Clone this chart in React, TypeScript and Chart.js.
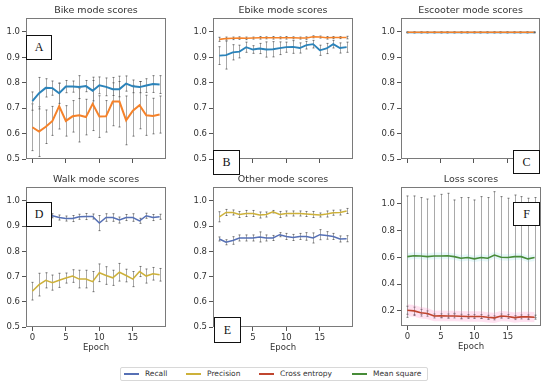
import React, { useEffect, useRef } from "react";
import { Chart, registerables } from "chart.js";

Chart.register(...registerables);
Chart.defaults.font.family = "'DejaVu Sans', sans-serif";

// ---------- data ----------
const epochs = [0, 1, 2, 3, 4, 5, 6, 7, 8, 9, 10, 11, 12, 13, 14, 15, 16, 17, 18, 19];
const xTicks = [0, 5, 10, 15];
const scoreTicks = [0.5, 0.6, 0.7, 0.8, 0.9, 1.0];
const lossTicks = [0.2, 0.4, 0.6, 0.8, 1.0];

const bikeRecall = [0.728, 0.759, 0.78, 0.779, 0.759, 0.785, 0.785, 0.783, 0.787, 0.769, 0.79, 0.784, 0.775, 0.775, 0.797, 0.786, 0.783, 0.789, 0.795, 0.793];
const bikeRecallErr = [0.036, 0.062, 0.036, 0.028, 0.04, 0.024, 0.022, 0.045, 0.022, 0.04, 0.033, 0.035, 0.025, 0.03, 0.03, 0.025, 0.022, 0.027, 0.033, 0.035];
const bikePrecision = [0.625, 0.608, 0.627, 0.65, 0.708, 0.65, 0.668, 0.672, 0.665, 0.717, 0.667, 0.668, 0.726, 0.726, 0.652, 0.69, 0.712, 0.672, 0.669, 0.675];
const bikePrecisionErr = [0.092, 0.098, 0.066, 0.057, 0.09, 0.06, 0.062, 0.105, 0.07, 0.105, 0.082, 0.062, 0.095, 0.1, 0.096, 0.1, 0.093, 0.079, 0.07, 0.073];

const ebikeRecall = [0.907, 0.909, 0.92, 0.923, 0.94, 0.931, 0.935, 0.931, 0.932, 0.936, 0.94, 0.941, 0.937, 0.948, 0.952, 0.928, 0.935, 0.952, 0.937, 0.94];
const ebikeRecallErr = [0.035, 0.055, 0.03, 0.025, 0.02, 0.015, 0.02, 0.03, 0.03, 0.025, 0.02, 0.025, 0.02, 0.015, 0.015, 0.02, 0.02, 0.015, 0.02, 0.02];
const ebikePrecision = [0.971, 0.974, 0.975, 0.976, 0.975, 0.976, 0.977, 0.977, 0.977, 0.977, 0.977, 0.977, 0.976, 0.976, 0.981, 0.98, 0.977, 0.978, 0.978, 0.978];
const ebikePrecisionErr = [0.008, 0.006, 0.005, 0.005, 0.005, 0.004, 0.005, 0.004, 0.005, 0.004, 0.005, 0.004, 0.004, 0.005, 0.004, 0.004, 0.005, 0.004, 0.004, 0.005];

const escooterRecall = [0.998, 0.998, 0.998, 0.998, 0.998, 0.998, 0.998, 0.998, 0.998, 0.998, 0.998, 0.998, 0.998, 0.998, 0.998, 0.998, 0.998, 0.998, 0.998, 0.998];
const escooterRecallErr = [0.002, 0.002, 0.002, 0.002, 0.002, 0.002, 0.002, 0.002, 0.002, 0.002, 0.002, 0.002, 0.002, 0.002, 0.002, 0.002, 0.002, 0.002, 0.002, 0.002];
const escooterPrecision = [0.999, 0.999, 0.999, 0.999, 0.999, 0.999, 0.999, 0.999, 0.999, 0.999, 0.999, 0.999, 0.999, 0.999, 0.999, 0.999, 0.999, 0.999, 0.999, 0.999];
const escooterPrecisionErr = [0.001, 0.001, 0.001, 0.001, 0.001, 0.001, 0.001, 0.001, 0.001, 0.001, 0.001, 0.001, 0.001, 0.001, 0.001, 0.001, 0.001, 0.001, 0.001, 0.001];

const walkRecall = [0.935, 0.938, 0.94, 0.941, 0.934, 0.93, 0.93, 0.937, 0.938, 0.938, 0.912, 0.934, 0.934, 0.924, 0.934, 0.934, 0.921, 0.941, 0.934, 0.937];
const walkRecallErr = [0.01, 0.01, 0.01, 0.008, 0.01, 0.01, 0.012, 0.01, 0.012, 0.01, 0.03, 0.015, 0.015, 0.012, 0.012, 0.015, 0.01, 0.01, 0.012, 0.01];
const walkPrecision = [0.642, 0.668, 0.685, 0.676, 0.685, 0.694, 0.702, 0.69, 0.69, 0.68, 0.715, 0.704, 0.695, 0.717, 0.704, 0.69, 0.72, 0.702, 0.711, 0.707];
const walkPrecisionErr = [0.035, 0.045, 0.03, 0.03, 0.028, 0.02, 0.025, 0.035, 0.035, 0.04, 0.035, 0.035, 0.03, 0.035, 0.025, 0.03, 0.02, 0.028, 0.025, 0.025];

const otherRecall = [0.849, 0.836, 0.843, 0.853, 0.853, 0.853, 0.857, 0.853, 0.853, 0.866, 0.859, 0.855, 0.859, 0.859, 0.853, 0.866, 0.863, 0.859, 0.849, 0.85];
const otherRecallErr = [0.008, 0.01, 0.015, 0.012, 0.012, 0.012, 0.02, 0.012, 0.01, 0.008, 0.012, 0.012, 0.012, 0.015, 0.02, 0.02, 0.015, 0.012, 0.012, 0.012];
const otherPrecision = [0.937, 0.954, 0.954, 0.946, 0.95, 0.95, 0.944, 0.946, 0.957, 0.946, 0.95, 0.95, 0.95, 0.948, 0.946, 0.944, 0.948, 0.953, 0.954, 0.96];
const otherPrecisionErr = [0.02, 0.012, 0.01, 0.012, 0.012, 0.012, 0.012, 0.01, 0.005, 0.012, 0.01, 0.01, 0.01, 0.01, 0.012, 0.008, 0.012, 0.01, 0.01, 0.01];

const lossMeanSquare = [0.606, 0.613, 0.611, 0.606, 0.611, 0.611, 0.613, 0.606, 0.594, 0.599, 0.589, 0.599, 0.594, 0.618, 0.601, 0.599, 0.606, 0.606, 0.589, 0.599];
const lossMeanSquareErr = [0.454, 0.447, 0.437, 0.431, 0.449, 0.461, 0.467, 0.424, 0.454, 0.449, 0.441, 0.456, 0.454, 0.474, 0.454, 0.444, 0.461, 0.449, 0.454, 0.449];
const lossMeanSquareBand = [0.025, 0.025, 0.024, 0.024, 0.025, 0.025, 0.024, 0.024, 0.025, 0.024, 0.024, 0.025, 0.024, 0.025, 0.024, 0.024, 0.025, 0.024, 0.024, 0.025];
const lossCrossEntropy = [0.205, 0.2, 0.186, 0.18, 0.162, 0.163, 0.162, 0.162, 0.16, 0.158, 0.158, 0.158, 0.152, 0.148, 0.162, 0.158, 0.15, 0.155, 0.155, 0.153];
const lossCrossEntropyErr = [0.03, 0.028, 0.025, 0.02, 0.015, 0.015, 0.015, 0.015, 0.015, 0.015, 0.015, 0.015, 0.015, 0.015, 0.015, 0.015, 0.015, 0.015, 0.015, 0.015];
const lossCrossEntropyBand = [0.045, 0.044, 0.043, 0.042, 0.04, 0.04, 0.04, 0.04, 0.039, 0.039, 0.039, 0.039, 0.038, 0.038, 0.039, 0.038, 0.038, 0.038, 0.038, 0.038];

// ---------- styling ----------
const C_BLUE1 = "#2b83ba";
const C_ORANGE = "#f5822a";
const C_BLUE2 = "#5670b5";
const C_GOLD = "#cdb13a";
const C_RED = "#c0462f";
const C_GREEN = "#478c38";

const pts = (vals: number[]) => vals.map((v, i) => ({ x: epochs[i], y: v }));

function series(vals: number[], errs: number[], color: string, width: number) {
  return {
    data: pts(vals),
    errors: errs,
    borderColor: color,
    backgroundColor: color,
    borderWidth: width,
    pointRadius: 0,
    tension: 0,
    fill: false,
  };
}

function band(vals: number[], spread: number[], color: string) {
  return [
    {
      data: vals.map((v, i) => ({ x: epochs[i], y: v - spread[i] })),
      borderWidth: 0,
      pointRadius: 0,
      fill: false,
      borderColor: "rgba(0,0,0,0)",
    },
    {
      data: vals.map((v, i) => ({ x: epochs[i], y: v + spread[i] })),
      borderWidth: 0,
      pointRadius: 0,
      fill: "-1",
      borderColor: "rgba(0,0,0,0)",
      backgroundColor: color,
    },
  ];
}

const errorBarPlugin = {
  id: "errorBars",
  beforeDatasetsDraw(chart: any) {
    const { ctx } = chart;
    const xs = chart.scales.x;
    const ys = chart.scales.y;
    ctx.save();
    chart.data.datasets.forEach((ds: any) => {
      if (!ds.errors) return;
      ds.data.forEach((p: any, i: number) => {
        const e = ds.errors[i];
        const px = Math.round(xs.getPixelForValue(p.x)) + 0.5;
        const yt = ys.getPixelForValue(p.y + e);
        const yb = ys.getPixelForValue(p.y - e);
        ctx.lineWidth = 1;
        ctx.strokeStyle = "rgba(140,140,140,0.75)";
        ctx.beginPath();
        ctx.moveTo(px, yt);
        ctx.lineTo(px, yb);
        ctx.stroke();
        ctx.strokeStyle = "rgba(70,70,70,0.7)";
        ctx.beginPath();
        ctx.moveTo(px - 1, yt);
        ctx.lineTo(px + 1, yt);
        ctx.moveTo(px - 1, yb);
        ctx.lineTo(px + 1, yb);
        ctx.stroke();
      });
    });
    ctx.restore();
  },
};

const framePlugin = {
  id: "frame",
  afterDraw(chart: any) {
    const { ctx, chartArea: a } = chart;
    ctx.save();
    ctx.strokeStyle = "#7a7a7a";
    ctx.lineWidth = 1;
    ctx.strokeRect(a.left + 0.5, a.top + 0.5, a.right - a.left - 1, a.bottom - a.top - 1);
    ctx.restore();
  },
};

type PanelDef = {
  title: string;
  left: number;
  top: number;
  w: number;
  h: number;
  showX: boolean;
  yMin: number;
  yMax: number;
  yTicks: number[];
  datasets: any[];
  letter: string;
  box: { l: number; t: number; w: number; h: number };
};

// Chart.js draws the first dataset on top, so precision is listed first.
const panels: PanelDef[] = [
  {
    title: "Bike mode scores", left: 26, top: 18, w: 140, h: 141, showX: false,
    yMin: 0.5, yMax: 1.055, yTicks: scoreTicks,
    datasets: [series(bikePrecision, bikePrecisionErr, C_ORANGE, 2), series(bikeRecall, bikeRecallErr, C_BLUE1, 2)],
    letter: "A", box: { l: 26, t: 35, w: 26, h: 25 },
  },
  {
    title: "Ebike mode scores", left: 213, top: 18, w: 140, h: 141, showX: false,
    yMin: 0.5, yMax: 1.055, yTicks: scoreTicks,
    datasets: [series(ebikePrecision, ebikePrecisionErr, C_ORANGE, 1.6), series(ebikeRecall, ebikeRecallErr, C_BLUE1, 1.8)],
    letter: "B", box: { l: 213, t: 150, w: 27, h: 25 },
  },
  {
    title: "Escooter mode scores", left: 401, top: 18, w: 139, h: 141, showX: false,
    yMin: 0.5, yMax: 1.055, yTicks: scoreTicks,
    datasets: [series(escooterPrecision, escooterPrecisionErr, C_ORANGE, 1.5), series(escooterRecall, escooterRecallErr, C_BLUE1, 1.5)],
    letter: "C", box: { l: 513, t: 150, w: 27, h: 24 },
  },
  {
    title: "Walk mode scores", left: 26, top: 187, w: 140, h: 140, showX: true,
    yMin: 0.5, yMax: 1.055, yTicks: scoreTicks,
    datasets: [series(walkPrecision, walkPrecisionErr, C_GOLD, 1.5), series(walkRecall, walkRecallErr, C_BLUE2, 1.5)],
    letter: "D", box: { l: 26, t: 202, w: 26, h: 25 },
  },
  {
    title: "Other mode scores", left: 213, top: 187, w: 140, h: 140, showX: true,
    yMin: 0.5, yMax: 1.055, yTicks: scoreTicks,
    datasets: [series(otherPrecision, otherPrecisionErr, C_GOLD, 1.5), series(otherRecall, otherRecallErr, C_BLUE2, 1.5)],
    letter: "E", box: { l: 214, t: 317, w: 27, h: 26 },
  },
  {
    title: "Loss scores", left: 401, top: 187, w: 140, h: 139, showX: true,
    yMin: 0.087, yMax: 1.127, yTicks: lossTicks,
    datasets: [
      series(lossMeanSquare, lossMeanSquareErr, C_GREEN, 1.6),
      series(lossCrossEntropy, lossCrossEntropyErr, C_RED, 1.6),
      ...band(lossMeanSquare, lossMeanSquareBand, "rgba(120,215,225,0.18)"),
      ...band(lossCrossEntropy, lossCrossEntropyBand, "rgba(255,140,200,0.25)"),
    ],
    letter: "F", box: { l: 513, t: 202, w: 27, h: 24 },
  },
];

const Y_AXIS_W = 26;
const TITLE_H = 18;
const RIGHT_PAD = 6;

function Panel({ p }: { p: PanelDef }) {
  const ref = useRef<HTMLCanvasElement>(null);
  const xAxisH = p.showX ? 28 : 8;
  const cw = Y_AXIS_W + p.w + RIGHT_PAD;
  const ch = TITLE_H + p.h + xAxisH;

  useEffect(() => {
    const chart = new Chart(ref.current as HTMLCanvasElement, {
      type: "line",
      data: { datasets: p.datasets },
      options: {
        animation: false,
        responsive: false,
        maintainAspectRatio: false,
        events: [],
        layout: { padding: { left: 0, right: RIGHT_PAD, top: 0, bottom: 0 } },
        plugins: {
          legend: { display: false },
          tooltip: { enabled: false },
          title: {
            display: true,
            text: p.title,
            fullSize: false,
            color: "#333",
            font: { size: 9.5, weight: "normal", lineHeight: "12px" },
            padding: { top: 5, bottom: 1 },
          },
        },
        scales: {
          x: {
            type: "linear",
            min: -0.95,
            max: 19.95,
            afterBuildTicks: (s: any) => {
              s.ticks = xTicks.map((v) => ({ value: v }));
            },
            afterFit: (s: any) => {
              s.height = xAxisH;
            },
            grid: { drawOnChartArea: false, tickLength: 4, tickColor: "#555", color: "#555" },
            border: { display: false },
            ticks: {
              display: p.showX,
              autoSkip: false,
              maxRotation: 0,
              padding: 2,
              color: "#333",
              font: { size: 8.5 },
              callback: (v: any) => String(v),
            },
            title: {
              display: p.showX,
              text: "Epoch",
              color: "#333",
              font: { size: 8.5 },
              padding: { top: 0, bottom: 2 },
            },
          },
          y: {
            type: "linear",
            min: p.yMin,
            max: p.yMax,
            afterBuildTicks: (s: any) => {
              s.ticks = p.yTicks.map((v) => ({ value: v }));
            },
            afterFit: (s: any) => {
              s.width = Y_AXIS_W;
            },
            grid: { drawOnChartArea: false, tickLength: 4, tickColor: "#555", color: "#555" },
            border: { display: false },
            ticks: {
              autoSkip: false,
              padding: 2,
              color: "#333",
              font: { size: 8.5 },
              callback: (v: any) => Number(v).toFixed(1),
            },
          },
        },
      } as any,
      plugins: [errorBarPlugin, framePlugin],
    });
    return () => chart.destroy();
  }, []);

  return (
    <canvas
      ref={ref}
      width={cw}
      height={ch}
      style={{
        position: "absolute",
        left: p.left - Y_AXIS_W,
        top: p.top - TITLE_H,
        width: cw,
        height: ch,
      }}
    />
  );
}

const legendItems = [
  { label: "Recall", color: C_BLUE2, lineX: 124, textX: 145 },
  { label: "Precision", color: C_GOLD, lineX: 186, textX: 207 },
  { label: "Cross entropy", color: C_RED, lineX: 259, textX: 280 },
  { label: "Mean square", color: C_GREEN, lineX: 352, textX: 373 },
];

export default function App() {
  return (
    <div
      style={{
        position: "absolute",
        left: 0,
        top: 0,
        width: 550,
        height: 389,
        background: "#fff",
        overflow: "hidden",
        fontFamily: "'DejaVu Sans', sans-serif",
      }}
    >
      {panels.map((p) => (
        <Panel key={p.title} p={p} />
      ))}
      {panels.map((p) => (
        <div
          key={"box" + p.letter}
          style={{
            position: "absolute",
            left: p.box.l,
            top: p.box.t,
            width: p.box.w,
            height: p.box.h,
            boxSizing: "border-box",
            border: "1px solid #111",
            background: "#fff",
            fontFamily: "'Liberation Serif', 'DejaVu Serif', serif",
            fontSize: 12,
            color: "#111",
            display: "flex",
            alignItems: "center",
            justifyContent: "center",
            zIndex: 2,
          }}
        >
          {p.letter}
        </div>
      ))}
      <div
        style={{
          position: "absolute",
          left: 120,
          top: 367,
          width: 308,
          height: 14,
          boxSizing: "border-box",
          border: "1px solid #d8d8d8",
          borderRadius: 2,
          background: "#fff",
        }}
      />
      {legendItems.map((it) => (
        <React.Fragment key={it.label}>
          <div
            style={{
              position: "absolute",
              left: it.lineX,
              top: 373,
              width: 15,
              height: 1.5,
              background: it.color,
            }}
          />
          <div
            style={{
              position: "absolute",
              left: it.textX,
              top: 368,
              height: 12,
              lineHeight: "12px",
              fontSize: 7.5,
              color: "#333",
              whiteSpace: "nowrap",
            }}
          >
            {it.label}
          </div>
        </React.Fragment>
      ))}
    </div>
  );
}
